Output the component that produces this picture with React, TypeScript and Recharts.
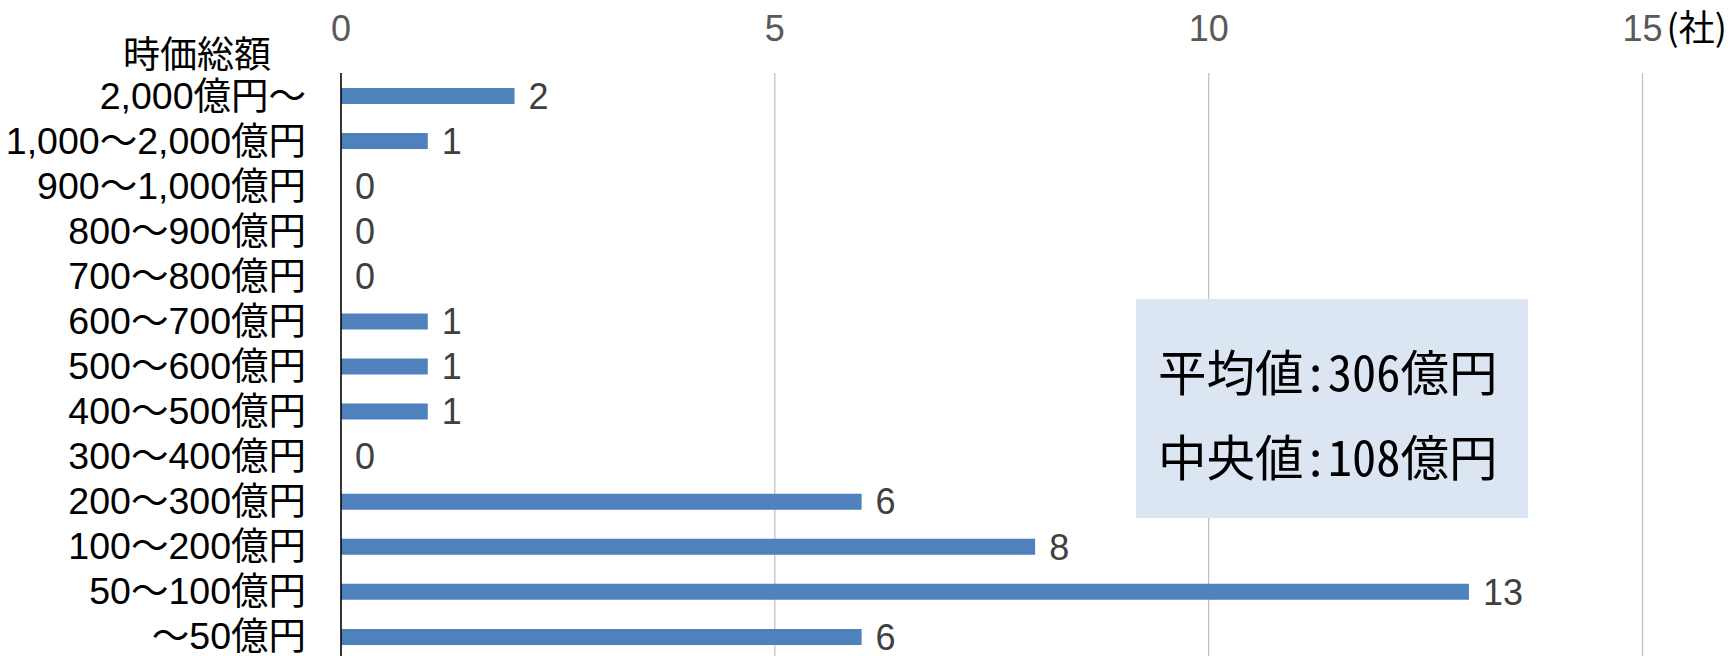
import React from 'react';
import { BarChart, Bar, XAxis, YAxis, CartesianGrid, LabelList } from 'recharts';

// 時価総額の区分（上から順）
const categories = [
  '2,000億円～',
  '1,000～2,000億円',
  '900～1,000億円',
  '800～900億円',
  '700～800億円',
  '600～700億円',
  '500～600億円',
  '400～500億円',
  '300～400億円',
  '200～300億円',
  '100～200億円',
  '50～100億円',
  '～50億円',
];
// 社数
const companyCounts = [2, 1, 0, 0, 0, 1, 1, 1, 0, 6, 8, 13, 6];
const xTicks = [0, 5, 10, 15];
const xUnit = '(社)';
const axisTitle = '時価総額';
const summaryLines = ['平均値:306億円', '中央値:108億円'];

const data = categories.map((name, i) => ({ name, value: companyCounts[i] }));

const LATIN_FONT = "'Liberation Sans', Arial, 'Noto Sans CJK JP', sans-serif";
const CJK_FONT = "'Noto Sans CJK JP', sans-serif";

const TopTick = (props: any) => {
  const { x, payload } = props;
  const isLast = payload.value === xTicks[xTicks.length - 1];
  return (
    <g>
      <text x={x} y={41} textAnchor="middle" fill="#595959" fontSize={36} fontFamily={LATIN_FONT}>
        {payload.value}
      </text>
      {isLast && (
        <text x={x + 24} y={41} textAnchor="start" fill="#000" fontSize={36} fontFamily={CJK_FONT}>
          {xUnit}
        </text>
      )}
    </g>
  );
};

const CategoryTick = (props: any) => {
  const { x, y, payload } = props;
  return (
    <text x={x} y={y} textAnchor="end" dominantBaseline="central" fill="#000" fontSize={37.5} fontFamily={LATIN_FONT}>
      {payload.value}
    </text>
  );
};

export default function App() {
  return (
    <div style={{ position: 'absolute', left: 0, top: 0, width: 1735, height: 656, overflow: 'hidden', background: '#fff' }}>
      <BarChart
        width={1735}
        height={659}
        data={data}
        layout="vertical"
        margin={{ top: 0, right: 92.5, bottom: 0, left: 0 }}
      >
        <CartesianGrid horizontal={false} stroke="#bfbfbf" strokeWidth={1.2} />
        <XAxis
          type="number"
          orientation="top"
          domain={[0, 15]}
          ticks={xTicks}
          height={73}
          axisLine={false}
          tickLine={false}
          tick={<TopTick />}
          interval={0}
        />
        <YAxis
          type="category"
          dataKey="name"
          width={341}
          axisLine={{ stroke: '#000', strokeWidth: 1.5 }}
          tickLine={false}
          tickSize={0}
          tickMargin={35}
          tick={<CategoryTick />}
          interval={0}
        />
        <Bar dataKey="value" fill="#4f81bd" barSize={16} minPointSize={0.01} isAnimationActive={false}>
          <LabelList
            dataKey="value"
            position="right"
            offset={14}
            fill="#404040"
            fontSize={36}
            fontFamily={LATIN_FONT}
            formatter={(v: any) => String(v)}
          />
        </Bar>
      </BarChart>
      <svg width={1735} height={656} style={{ position: 'absolute', left: 0, top: 0, pointerEvents: 'none' }}>
        <text x={271} y={52} textAnchor="end" dominantBaseline="central" fill="#000" fontSize={37} fontFamily={CJK_FONT}>
          {axisTitle}
        </text>
        <rect x={1136} y={299} width={392} height={219} fill="#dce6f2" />
        {summaryLines.map((line, i) => (
          <text
            key={line}
            x={1158}
            y={370 + i * 85}
            dominantBaseline="central"
            fill="#000"
            fontSize={48.5}
            fontFamily={CJK_FONT}
            style={{ fontFeatureSettings: '"hwid"' }}
          >
            {line}
          </text>
        ))}
      </svg>
    </div>
  );
}
